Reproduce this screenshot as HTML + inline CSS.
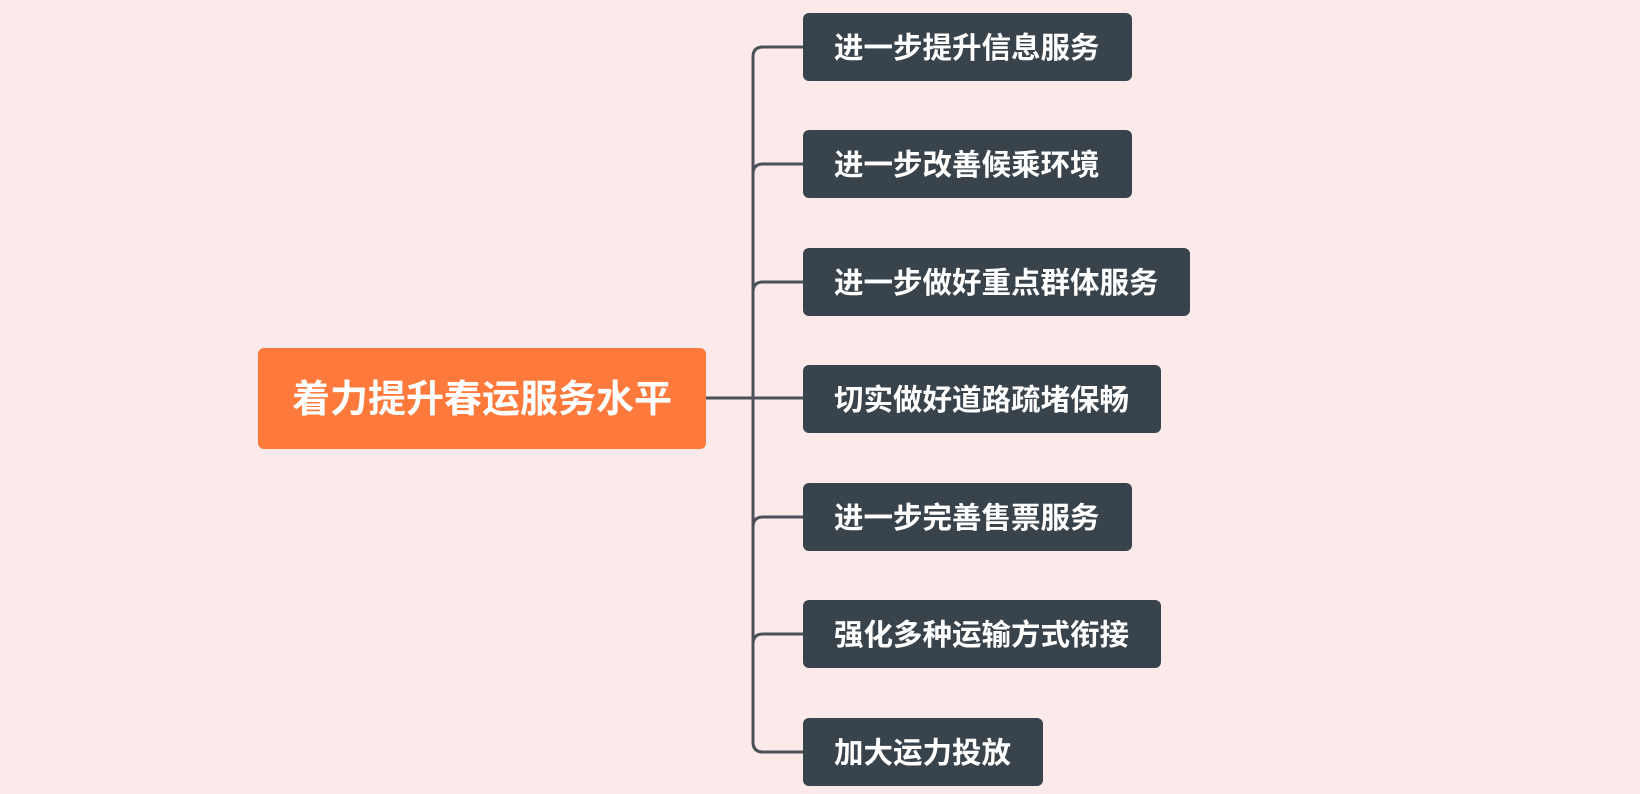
<!DOCTYPE html>
<html><head><meta charset="utf-8"><style>
body{margin:0;width:1640px;height:794px;background:#fce9e9;position:relative;overflow:hidden;font-family:"Liberation Sans","Noto Sans CJK SC",sans-serif;font-weight:bold;}
.n{position:absolute;left:803px;height:68px;background:#39434b;border-radius:6px;color:#fff;font-size:29.5px;line-height:72px;padding-left:31px;box-sizing:border-box;white-space:nowrap;}
.r{position:absolute;left:258px;top:348px;width:448px;height:101px;background:#fe7a3c;border-radius:6px;color:#fff;font-size:38px;line-height:104px;text-align:center;}
svg{position:absolute;left:0;top:0}
</style></head><body>
<svg width="1640" height="794"><g fill="none" stroke="#4b5159" stroke-width="3">
<path d="M706 398H803"/>
<path d="M803 47H763Q753 47 753 57V742Q753 752 763 752H803"/>
<path d="M803 164H763Q753 164 753 174"/>
<path d="M803 282H763Q753 282 753 292"/>
<path d="M803 517H763Q753 517 753 527"/>
<path d="M803 634H763Q753 634 753 644"/>
</g></svg>
<div class="r">着力提升春运服务水平</div>
<div class="n" style="top:13px;width:329px">进一步提升信息服务</div>
<div class="n" style="top:130px;width:329px">进一步改善候乘环境</div>
<div class="n" style="top:248px;width:387px">进一步做好重点群体服务</div>
<div class="n" style="top:365px;width:358px">切实做好道路疏堵保畅</div>
<div class="n" style="top:483px;width:329px">进一步完善售票服务</div>
<div class="n" style="top:600px;width:358px">强化多种运输方式衔接</div>
<div class="n" style="top:718px;width:240px">加大运力投放</div>
</body></html>
